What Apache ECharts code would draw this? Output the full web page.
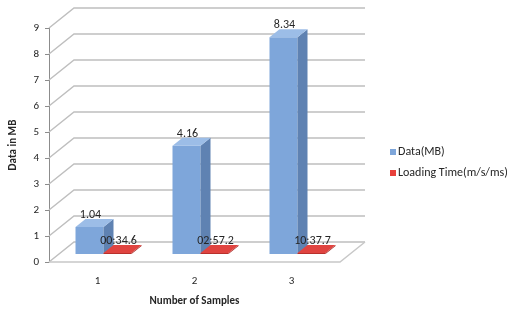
<!DOCTYPE html>
<html>
<head>
<meta charset="utf-8">
<title>Data vs Loading Time</title>
<script src="https://cdn.jsdelivr.net/npm/echarts@6/dist/echarts.min.js"></script>
<style>
  html, body {margin:0;padding:0;background:#fff;}
  #main {width:509px;height:314px;}
</style>
</head>
<body>
<div id="main"></div>
<script>
// chart data
var categories = ['1', '2', '3'];
var dataMB = [1.04, 4.16, 8.34];
var loadSeconds = [34.6, 177.2, 637.7];   // shown as mm:ss.s, plotted as fraction of a day like excel does
var loadLabels = ['00:34.6', '02:57.2', '10:37.7'];
var yTicks = [0, 1, 2, 3, 4, 5, 6, 7, 8, 9];

var FONT = 'Carlito, Lato, sans-serif';
var DX = 25, DY = -20;      // depth of the back wall
var BX = 10, BY = -8;       // depth of a bar
var SY = -8;                // bars sit a little behind the front edge

var chart = echarts.init(document.getElementById('main'));

function wallItem(params, api) {
  var cs = params.coordSys;
  var v = api.value(0);
  var y = api.coord([0, v])[1];
  var x0 = cs.x, x1 = cs.x + cs.width;
  var children = [{
    type: 'polyline',
    shape: {points: [[x0, y], [x0 + DX, y + DY], [x1 + DX, y + DY]]},
    style: {stroke: '#BFBFBF', lineWidth: 1.5, fill: null}
  }];
  if (v === 0) {
    children.push({
      type: 'polyline',
      shape: {points: [[x0, y], [x1, y], [x1 + DX, y + DY]]},
      style: {stroke: '#C8C8C8', lineWidth: 1.5, fill: null}
    });
  }
  return {type: 'group', children: children};
}

function barItem(left, right, colors, labels, minH) {
  return function (params, api) {
    var idx = api.value(0);
    var top = api.coord([idx, api.value(1)]);
    var base = api.coord([idx, 0]);
    var cx = base[0];
    var xl = cx + left, xr = cx + right;
    var yb = base[1] + SY;
    var yt = Math.min(top[1] + SY, yb - minH);
    return {
      type: 'group',
      children: [
        {type: 'rect', shape: {x: xl, y: yt, width: xr - xl, height: yb - yt},
          style: {fill: colors[0]}},
        {type: 'polygon', shape: {points: [[xr, yt], [xr + BX, yt + BY], [xr + BX, yb + BY], [xr, yb]]},
          style: {fill: colors[1]}},
        {type: 'polygon', shape: {points: [[xl, yt], [xr, yt], [xr + BX, yt + BY], [xl + BX, yt + BY]]},
          style: {fill: colors[2]}},
        {type: 'text', z2: 100, style: {
          text: labels[params.dataIndex], x: (xl + xr) / 2 + 1, y: yt - 12,
          align: 'center', verticalAlign: 'middle',
          font: '12px ' + FONT, fill: '#262626'}}
      ]
    };
  };
}

var blueData = dataMB.map(function (v, i) { return [i, v]; });
var redData = loadSeconds.map(function (s, i) { return [i, s / 86400]; });
var blueLabels = dataMB.map(function (v) { return v.toFixed(2); });

var option = {
  animation: false,
  grid: {left: 48, right: 169, top: 28, bottom: 52},
  legend: {
    orient: 'vertical', left: 385, top: 141,
    itemWidth: 6, itemHeight: 6, itemGap: 9,
    icon: 'rect',
    textStyle: {fontFamily: FONT, fontSize: 12, color: '#262626', padding: [0, 0, 0, -3]},
    data: ['Data(MB)', 'Loading Time(m/s/ms)']
  },
  xAxis: {
    type: 'category', data: categories,
    name: 'Number of Samples', nameLocation: 'middle', nameGap: 34,
    nameTextStyle: {fontFamily: FONT, fontSize: 11, fontWeight: 'bold', color: '#262626'},
    axisLine: {show: false}, axisTick: {show: false},
    axisLabel: {margin: 14, fontFamily: FONT, fontSize: 11, color: '#262626'}
  },
  yAxis: {
    type: 'value', min: 0, max: 9, interval: 1,
    name: 'Data in MB', nameLocation: 'middle', nameGap: 30,
    nameTextStyle: {fontFamily: FONT, fontSize: 11, fontWeight: 'bold', color: '#262626'},
    axisLine: {show: true, lineStyle: {color: '#8C8C8C', width: 1}},
    axisTick: {show: true, length: 4, lineStyle: {color: '#8C8C8C'}},
    axisLabel: {margin: 10, fontFamily: FONT, fontSize: 11, color: '#262626'},
    splitLine: {show: false}
  },
  series: [
    {
      type: 'custom', name: 'walls', silent: true, z: 1,
      data: yTicks.map(function (t) { return [t]; }),
      encode: {y: 0},
      renderItem: wallItem
    },
    {
      type: 'custom', name: 'Data(MB)', z: 3,
      itemStyle: {color: '#7EA6DA'},
      data: blueData, encode: {x: 0, y: 1},
      renderItem: barItem(-22, 6, ['#7EA6DA', '#5F82B2', '#9CBDE7'], blueLabels, 1)
    },
    {
      type: 'custom', name: 'Loading Time(m/s/ms)', z: 4,
      itemStyle: {color: '#E8403B'},
      data: redData, encode: {x: 0, y: 1},
      renderItem: barItem(6, 34, ['#B8302C', '#A52A26', '#E04440'], loadLabels, 1)
    }
  ]
};
chart.setOption(option);
</script>
</body>
</html>
